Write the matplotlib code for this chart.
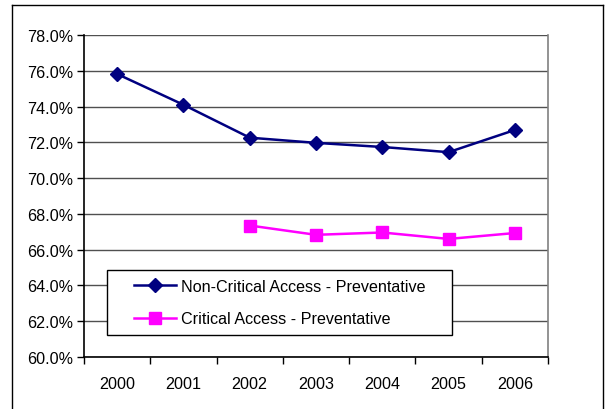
import matplotlib
matplotlib.use("Agg")
import matplotlib.pyplot as plt
from matplotlib.lines import Line2D
from matplotlib.patches import Rectangle
from matplotlib.ticker import FixedLocator, FuncFormatter

plt.rcParams['font.family'] = ['Liberation Sans', 'DejaVu Sans']

years = ["2000", "2001", "2002", "2003", "2004", "2005", "2006"]
non_critical = [75.82, 74.10, 72.26, 71.97, 71.74, 71.45, 72.69]
critical_years = ["2002", "2003", "2004", "2005", "2006"]
critical = [67.35, 66.83, 66.96, 66.60, 66.93]

FS = 11.6
fig = plt.figure(figsize=(6.05, 4.10), dpi=100)
W, H = 605, 410
ax0, ax1, ay0, ay1 = 84, 548, 36, 358
ax = fig.add_axes([ax0 / W, 1 - ay1 / H, (ax1 - ax0) / W, (ay1 - ay0) / H])

xs = list(range(len(years)))
xc = [years.index(y) for y in critical_years]

ax.plot(xs, non_critical, color="#000080", lw=1.8, marker="D", ms=7,
        mec="#000080", mfc="#000080", label="Non-Critical Access - Preventative", zorder=3)
ax.plot(xc, critical, color="#FF00FF", lw=1.8, marker="s", ms=8,
        mec="#FF00FF", mfc="#FF00FF", label="Critical Access - Preventative", zorder=3)

ax.set_xlim(-0.5, len(years) - 0.5)
ax.set_ylim(60, 78)
ax.yaxis.set_major_locator(FixedLocator([60 + 2 * i for i in range(10)]))
ax.yaxis.set_major_formatter(FuncFormatter(lambda v, p: f"{v:.1f}%"))
ax.set_xticks(xs)
ax.set_xticklabels(years)
ax.xaxis.set_minor_locator(FixedLocator([i - 0.5 for i in range(len(years) + 1)]))
ax.tick_params(axis="x", which="major", length=0, pad=14, labelsize=FS)
ax.tick_params(axis="x", which="minor", length=5, width=1, direction="out", color="black")
ax.tick_params(axis="y", length=5, width=1, direction="out", pad=3, labelsize=FS)

ax.grid(axis="y", color="#505050", lw=1)
ax.set_axisbelow(True)
for s in ["left", "bottom"]:
    ax.spines[s].set_color("black")
    ax.spines[s].set_linewidth(1.2)
ax.spines["top"].set_visible(False)
ax.spines["right"].set_color("#808080")
ax.spines["right"].set_linewidth(1.2)

# legend box
lx0, lx1, ly0, ly1 = 107, 452, 271, 336
bx = (lx0 - ax0) / (ax1 - ax0)
by = (ay1 - ly1) / (ay1 - ay0)
bw = (lx1 - lx0) / (ax1 - ax0)
bh = (ly1 - ly0) / (ay1 - ay0)
ax.add_patch(Rectangle((bx, by), bw, bh, transform=ax.transAxes, facecolor="white",
                       edgecolor="black", lw=1, zorder=4))
leg = ax.legend(loc="center", bbox_to_anchor=(bx + bw / 2, by + bh / 2),
                frameon=False, fontsize=FS, handlelength=2.6, handletextpad=0.3,
                labelspacing=1.1, borderpad=0, borderaxespad=0)
leg.set_zorder(5)

# outer chart frame
fx0, fx1, fy0 = 12 / W, 603 / W, 1 - 6 / H
fig.add_artist(Line2D([fx0, fx1], [fy0, fy0], transform=fig.transFigure, color="black", lw=1))
fig.add_artist(Line2D([fx0, fx0], [fy0, 0], transform=fig.transFigure, color="black", lw=1))
fig.add_artist(Line2D([fx1, fx1], [fy0, 0], transform=fig.transFigure, color="black", lw=1))

fig.savefig("out.png", dpi=100)
